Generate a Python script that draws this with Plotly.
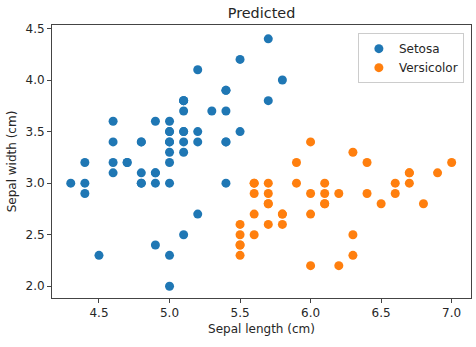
import plotly.graph_objects as go

# Predicted Setosa (sepal length, sepal width)
setosa_x = [5.1, 4.9, 4.7, 4.6, 5.0, 5.4, 4.6, 5.0, 4.4, 4.9, 5.4, 4.8, 4.8, 4.3, 5.8, 5.7, 5.4, 5.1, 5.7, 5.1,
            5.4, 5.1, 4.6, 5.1, 4.8, 5.0, 5.0, 5.2, 5.2, 4.7, 4.8, 5.4, 5.2, 5.5, 4.9, 5.0, 5.5, 4.9, 4.4, 5.1,
            5.0, 4.5, 4.4, 5.0, 5.1, 4.8, 5.1, 4.6, 5.3, 5.0,
            4.9, 5.2, 5.0, 5.4, 5.0, 5.1]
setosa_y = [3.5, 3.0, 3.2, 3.1, 3.6, 3.9, 3.4, 3.4, 2.9, 3.1, 3.7, 3.4, 3.0, 3.0, 4.0, 4.4, 3.9, 3.5, 3.8, 3.8,
            3.4, 3.7, 3.6, 3.3, 3.4, 3.0, 3.4, 3.5, 3.4, 3.2, 3.1, 3.4, 4.1, 4.2, 3.1, 3.2, 3.5, 3.6, 3.0, 3.4,
            3.5, 2.3, 3.2, 3.5, 3.8, 3.0, 3.8, 3.2, 3.7, 3.3,
            2.4, 2.7, 2.0, 3.0, 2.3, 2.5]

# Predicted Versicolor
versicolor_x = [7.0, 6.4, 6.9, 5.5, 6.5, 5.7, 6.3, 6.6, 5.9, 6.0, 6.1, 5.6, 6.7, 5.6, 5.8, 6.2, 5.6, 5.9, 6.1, 6.3,
                6.1, 6.4, 6.6, 6.8, 6.7, 6.0, 5.7, 5.5, 5.5, 5.8, 6.0, 6.0, 6.7, 6.3, 5.6, 5.5, 5.5, 6.1, 5.8, 5.6,
                5.7, 5.7, 6.2, 5.7]
versicolor_y = [3.2, 3.2, 3.1, 2.3, 2.8, 2.8, 3.3, 2.9, 3.0, 2.2, 2.9, 2.9, 3.1, 3.0, 2.7, 2.2, 2.5, 3.2, 2.8, 2.5,
                2.8, 2.9, 3.0, 2.8, 3.0, 2.9, 2.6, 2.4, 2.4, 2.7, 2.7, 3.4, 3.1, 2.3, 3.0, 2.5, 2.6, 3.0, 2.6, 2.7,
                3.0, 2.9, 2.9, 2.8]

x_ticks = [4.5, 5.0, 5.5, 6.0, 6.5, 7.0]
y_ticks = [2.0, 2.5, 3.0, 3.5, 4.0, 4.5]

FONT = "DejaVu Sans"
TXT = "#262626"

fig = go.Figure()
fig.add_trace(go.Scatter(x=setosa_x, y=setosa_y, mode="markers", name="Setosa",
                         marker=dict(color="#1f77b4", size=9, line=dict(width=0))))
fig.add_trace(go.Scatter(x=versicolor_x, y=versicolor_y, mode="markers", name="Versicolor",
                         marker=dict(color="#ff7f0e", size=9, line=dict(width=0))))

axis_common = dict(showgrid=False, zeroline=False, showline=True, mirror=True, linecolor="#444",
                   linewidth=1, ticks="outside", ticklen=4, tickcolor="#444", tickwidth=1,
                   tickfont=dict(family=FONT, size=12, color=TXT), tickformat=".1f")

fig.update_layout(
    width=476, height=347,
    margin=dict(l=52, r=5, t=25, b=49),
    paper_bgcolor="white", plot_bgcolor="white",
    font=dict(family=FONT, color=TXT),
    title=dict(text="Predicted", x=(52 + 471) / 2 / 476, xanchor="center", y=1 - 13 / 347, yanchor="middle",
               font=dict(family=FONT, size=14.4, color=TXT)),
    xaxis=dict(range=[4.167, 7.137], tickvals=x_ticks,
               title=dict(text="Sepal length (cm)", font=dict(family=FONT, size=12, color=TXT), standoff=5),
               **axis_common),
    yaxis=dict(range=[1.886, 4.534], tickvals=y_ticks,
               title=dict(text="Sepal width (cm)", font=dict(family=FONT, size=12, color=TXT), standoff=6),
               **axis_common),
    legend=dict(x=0.983, y=0.97, xanchor="right", yanchor="top", bgcolor="rgba(255,255,255,0.8)",
                bordercolor="#cccccc", borderwidth=1, font=dict(family=FONT, size=12, color=TXT),
                tracegroupgap=0),
    showlegend=True,
)

fig.write_html("out.html")
